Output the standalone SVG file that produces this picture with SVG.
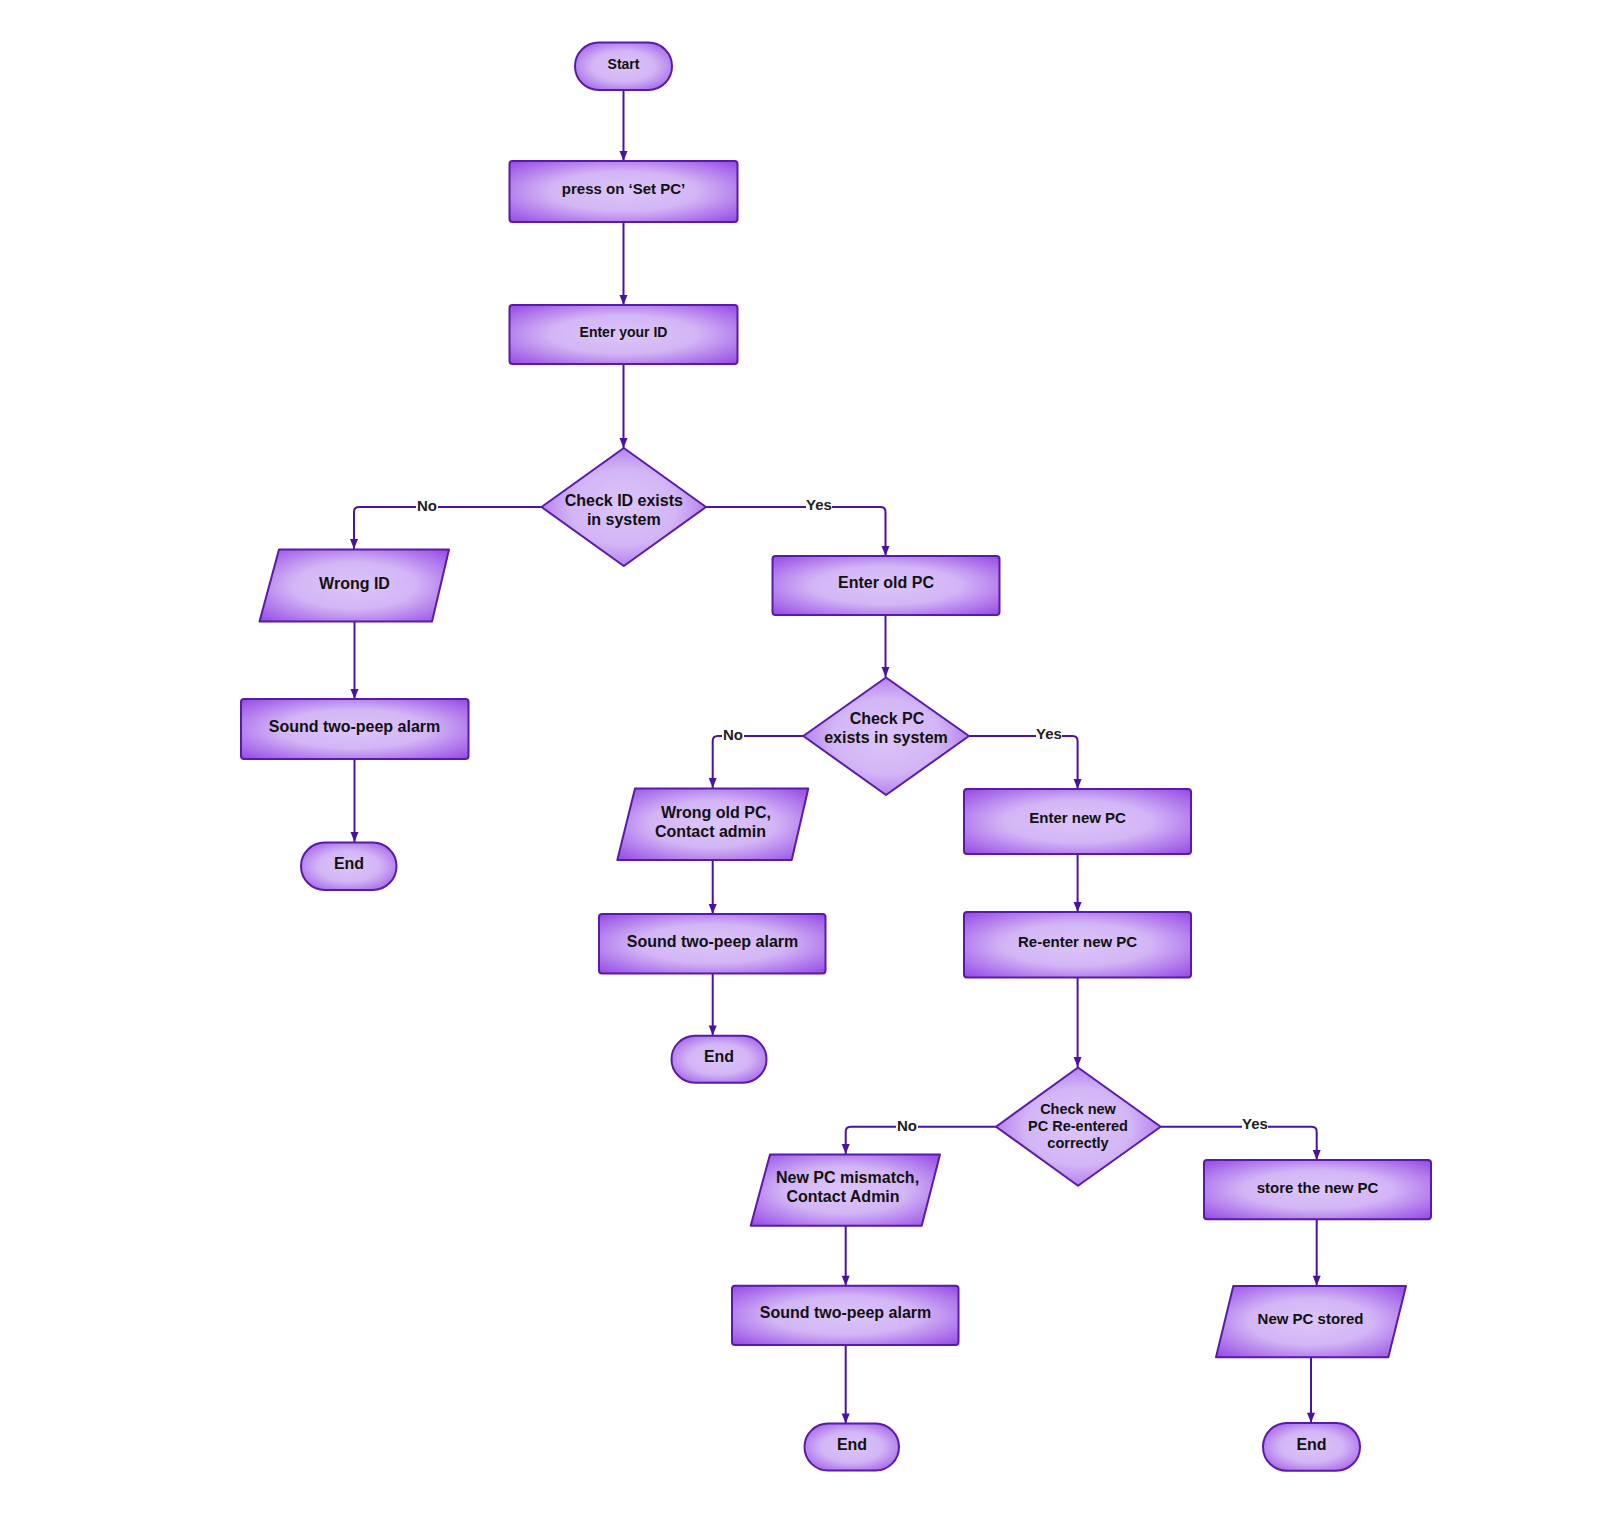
<svg xmlns="http://www.w3.org/2000/svg" width="1600" height="1522" viewBox="0 0 1600 1522">
<defs>
<radialGradient id="g" cx="0.5" cy="0.5" r="0.72">
<stop offset="0" stop-color="#dcc5f9"/>
<stop offset="0.45" stop-color="#d3b5f6"/>
<stop offset="1" stop-color="#9243e4"/>
</radialGradient>
<marker id="arr" viewBox="0 0 10 10" refX="10" refY="5" markerWidth="11" markerHeight="10" markerUnits="userSpaceOnUse" orient="auto">
<path d="M0 1 L10 5 L0 9 Z" fill="#4a12a0"/>
</marker>
</defs>
<style>
.n{fill:url(#g);stroke:#5a1aa8;stroke-width:2;stroke-linejoin:round}
.t{font-family:"Liberation Sans",Arial,sans-serif;font-weight:bold;fill:#111;text-anchor:middle}
.c{fill:none;stroke:#4a12a0;stroke-width:2;marker-end:url(#arr)}
.lb{font-family:"Liberation Sans",Arial,sans-serif;font-weight:bold;font-size:15px;fill:#222;text-anchor:middle}
</style>
<rect width="1600" height="1522" fill="#fff"/>
<g id="connectors">
<path class="c" d="M623.5 90 L623.5 161"/>
<path class="c" d="M623.5 222 L623.5 305"/>
<path class="c" d="M623.5 364 L623.5 448"/>
<path class="c" d="M541 507 L359 507 Q354 507 354 512 L354 549"/>
<path class="c" d="M706 507 L880.5 507 Q885.5 507 885.5 512 L885.5 556"/>
<path class="c" d="M354.5 622 L354.5 699"/>
<path class="c" d="M354.5 759 L354.5 842"/>
<path class="c" d="M885.5 615 L885.5 677"/>
<path class="c" d="M803 736 L717.7 736 Q712.7 736 712.7 741 L712.7 788"/>
<path class="c" d="M969 736 L1072.6 736 Q1077.6 736 1077.6 741 L1077.6 789"/>
<path class="c" d="M712.7 860 L712.7 914"/>
<path class="c" d="M712.7 973.5 L712.7 1035.5"/>
<path class="c" d="M1077.6 854 L1077.6 912"/>
<path class="c" d="M1077.6 977.5 L1077.6 1067"/>
<path class="c" d="M996 1126.7 L850.7 1126.7 Q845.7 1126.7 845.7 1131.7 L845.7 1154"/>
<path class="c" d="M1160.7 1126.7 L1311.7 1126.7 Q1316.7 1126.7 1316.7 1131.7 L1316.7 1160"/>
<path class="c" d="M845.7 1225.7 L845.7 1285.7"/>
<path class="c" d="M845.7 1345 L845.7 1423.5"/>
<path class="c" d="M1316.7 1219.3 L1316.7 1285.7"/>
<path class="c" d="M1311 1357.3 L1311 1422.7"/>
<rect x="416" y="497" width="22" height="20" fill="#fff"/>
<text class="lb" x="427" y="511">No</text>
<rect x="806" y="497" width="26" height="20" fill="#fff"/>
<text class="lb" x="819" y="510">Yes</text>
<rect x="722" y="726" width="22" height="20" fill="#fff"/>
<text class="lb" x="733" y="740">No</text>
<rect x="1036" y="726" width="26" height="20" fill="#fff"/>
<text class="lb" x="1049" y="739">Yes</text>
<rect x="896" y="1117" width="22" height="20" fill="#fff"/>
<text class="lb" x="907" y="1131">No</text>
<rect x="1242" y="1116" width="26" height="20" fill="#fff"/>
<text class="lb" x="1255" y="1129">Yes</text>
</g>
<g id="start"><rect class="n" x="575" y="42.5" width="97" height="47.5" rx="23.7"/><text class="t" x="623.5" y="68.5" font-size="14">Start</text></g>
<g id="press"><rect class="n" x="509.5" y="161" width="228" height="61" rx="3"/><text class="t" x="623.5" y="193.5" font-size="15">press on ‘Set PC’</text></g>
<g id="enterid"><rect class="n" x="509.5" y="305" width="228" height="59" rx="3"/><text class="t" x="623.5" y="337" font-size="14">Enter your ID</text></g>
<g id="checkid"><path class="n" d="M623.8 448 L706 507 L623.8 566 L541.5 507 Z"/><text class="t" x="623.8" y="505.5" font-size="16">Check ID exists</text><text class="t" x="623.8" y="524.5" font-size="16">in system</text></g>
<g id="wrongid"><path class="n" d="M279 549.5 L449 549.5 L432 621.5 L259.5 621.5 Z"/><text class="t" x="354.5" y="589" font-size="16">Wrong ID</text></g>
<g id="alarm1"><rect class="n" x="241" y="699" width="227.5" height="60" rx="3"/><text class="t" x="354.5" y="732" font-size="16">Sound two-peep alarm</text></g>
<g id="end1"><rect class="n" x="301" y="842.5" width="95.5" height="47.5" rx="23.7"/><text class="t" x="349" y="869" font-size="16">End</text></g>
<g id="enterold"><rect class="n" x="772.5" y="556" width="227" height="59" rx="3"/><text class="t" x="886" y="588" font-size="16">Enter old PC</text></g>
<g id="checkpc"><path class="n" d="M886 677.5 L969 736 L886 795 L803.3 736 Z"/><text class="t" x="887" y="724" font-size="16">Check PC</text><text class="t" x="886" y="743" font-size="16">exists in system</text></g>
<g id="wrongold"><path class="n" d="M635 788.5 L808.3 788.5 L791.7 860 L617.3 860 Z"/><text class="t" x="716" y="818" font-size="16">Wrong old PC,</text><text class="t" x="710.5" y="836.5" font-size="16">Contact admin</text></g>
<g id="alarm2"><rect class="n" x="599" y="914" width="226.5" height="59.5" rx="3"/><text class="t" x="712.5" y="947" font-size="16">Sound two-peep alarm</text></g>
<g id="end2"><rect class="n" x="671.5" y="1035.7" width="95" height="47" rx="23.5"/><text class="t" x="719" y="1062" font-size="16">End</text></g>
<g id="enternew"><rect class="n" x="964" y="789" width="227" height="65" rx="3"/><text class="t" x="1077.6" y="823" font-size="15">Enter new PC</text></g>
<g id="reenter"><rect class="n" x="964" y="912" width="227" height="65.5" rx="3"/><text class="t" x="1077.6" y="946.5" font-size="15">Re-enter new PC</text></g>
<g id="checknew"><path class="n" d="M1078 1067.5 L1160.7 1126.7 L1078 1185.7 L996 1126.7 Z"/><text class="t" x="1078" y="1113.5" font-size="14.5">Check new</text><text class="t" x="1078" y="1131" font-size="14.5">PC Re-entered</text><text class="t" x="1078" y="1148" font-size="14.5">correctly</text></g>
<g id="mismatch"><path class="n" d="M770 1154.5 L940 1154.5 L921.7 1225.7 L750.7 1225.7 Z"/><text class="t" x="847.5" y="1183" font-size="16">New PC mismatch,</text><text class="t" x="843" y="1201.5" font-size="16">Contact Admin</text></g>
<g id="alarm3"><rect class="n" x="732" y="1285.7" width="226.5" height="59.3" rx="3"/><text class="t" x="845.5" y="1318" font-size="16">Sound two-peep alarm</text></g>
<g id="end3"><rect class="n" x="804.5" y="1423.5" width="94.5" height="47" rx="23.5"/><text class="t" x="852" y="1450" font-size="16">End</text></g>
<g id="store"><rect class="n" x="1204" y="1160" width="227" height="59.3" rx="3"/><text class="t" x="1317.5" y="1192.5" font-size="15">store the new PC</text></g>
<g id="stored"><path class="n" d="M1233.3 1286 L1406 1286 L1388.3 1357.3 L1216 1357.3 Z"/><text class="t" x="1310.5" y="1324" font-size="15">New PC stored</text></g>
<g id="end4"><rect class="n" x="1263" y="1423" width="97" height="47.7" rx="23.8"/><text class="t" x="1311.5" y="1450" font-size="16">End</text></g>
</svg>
